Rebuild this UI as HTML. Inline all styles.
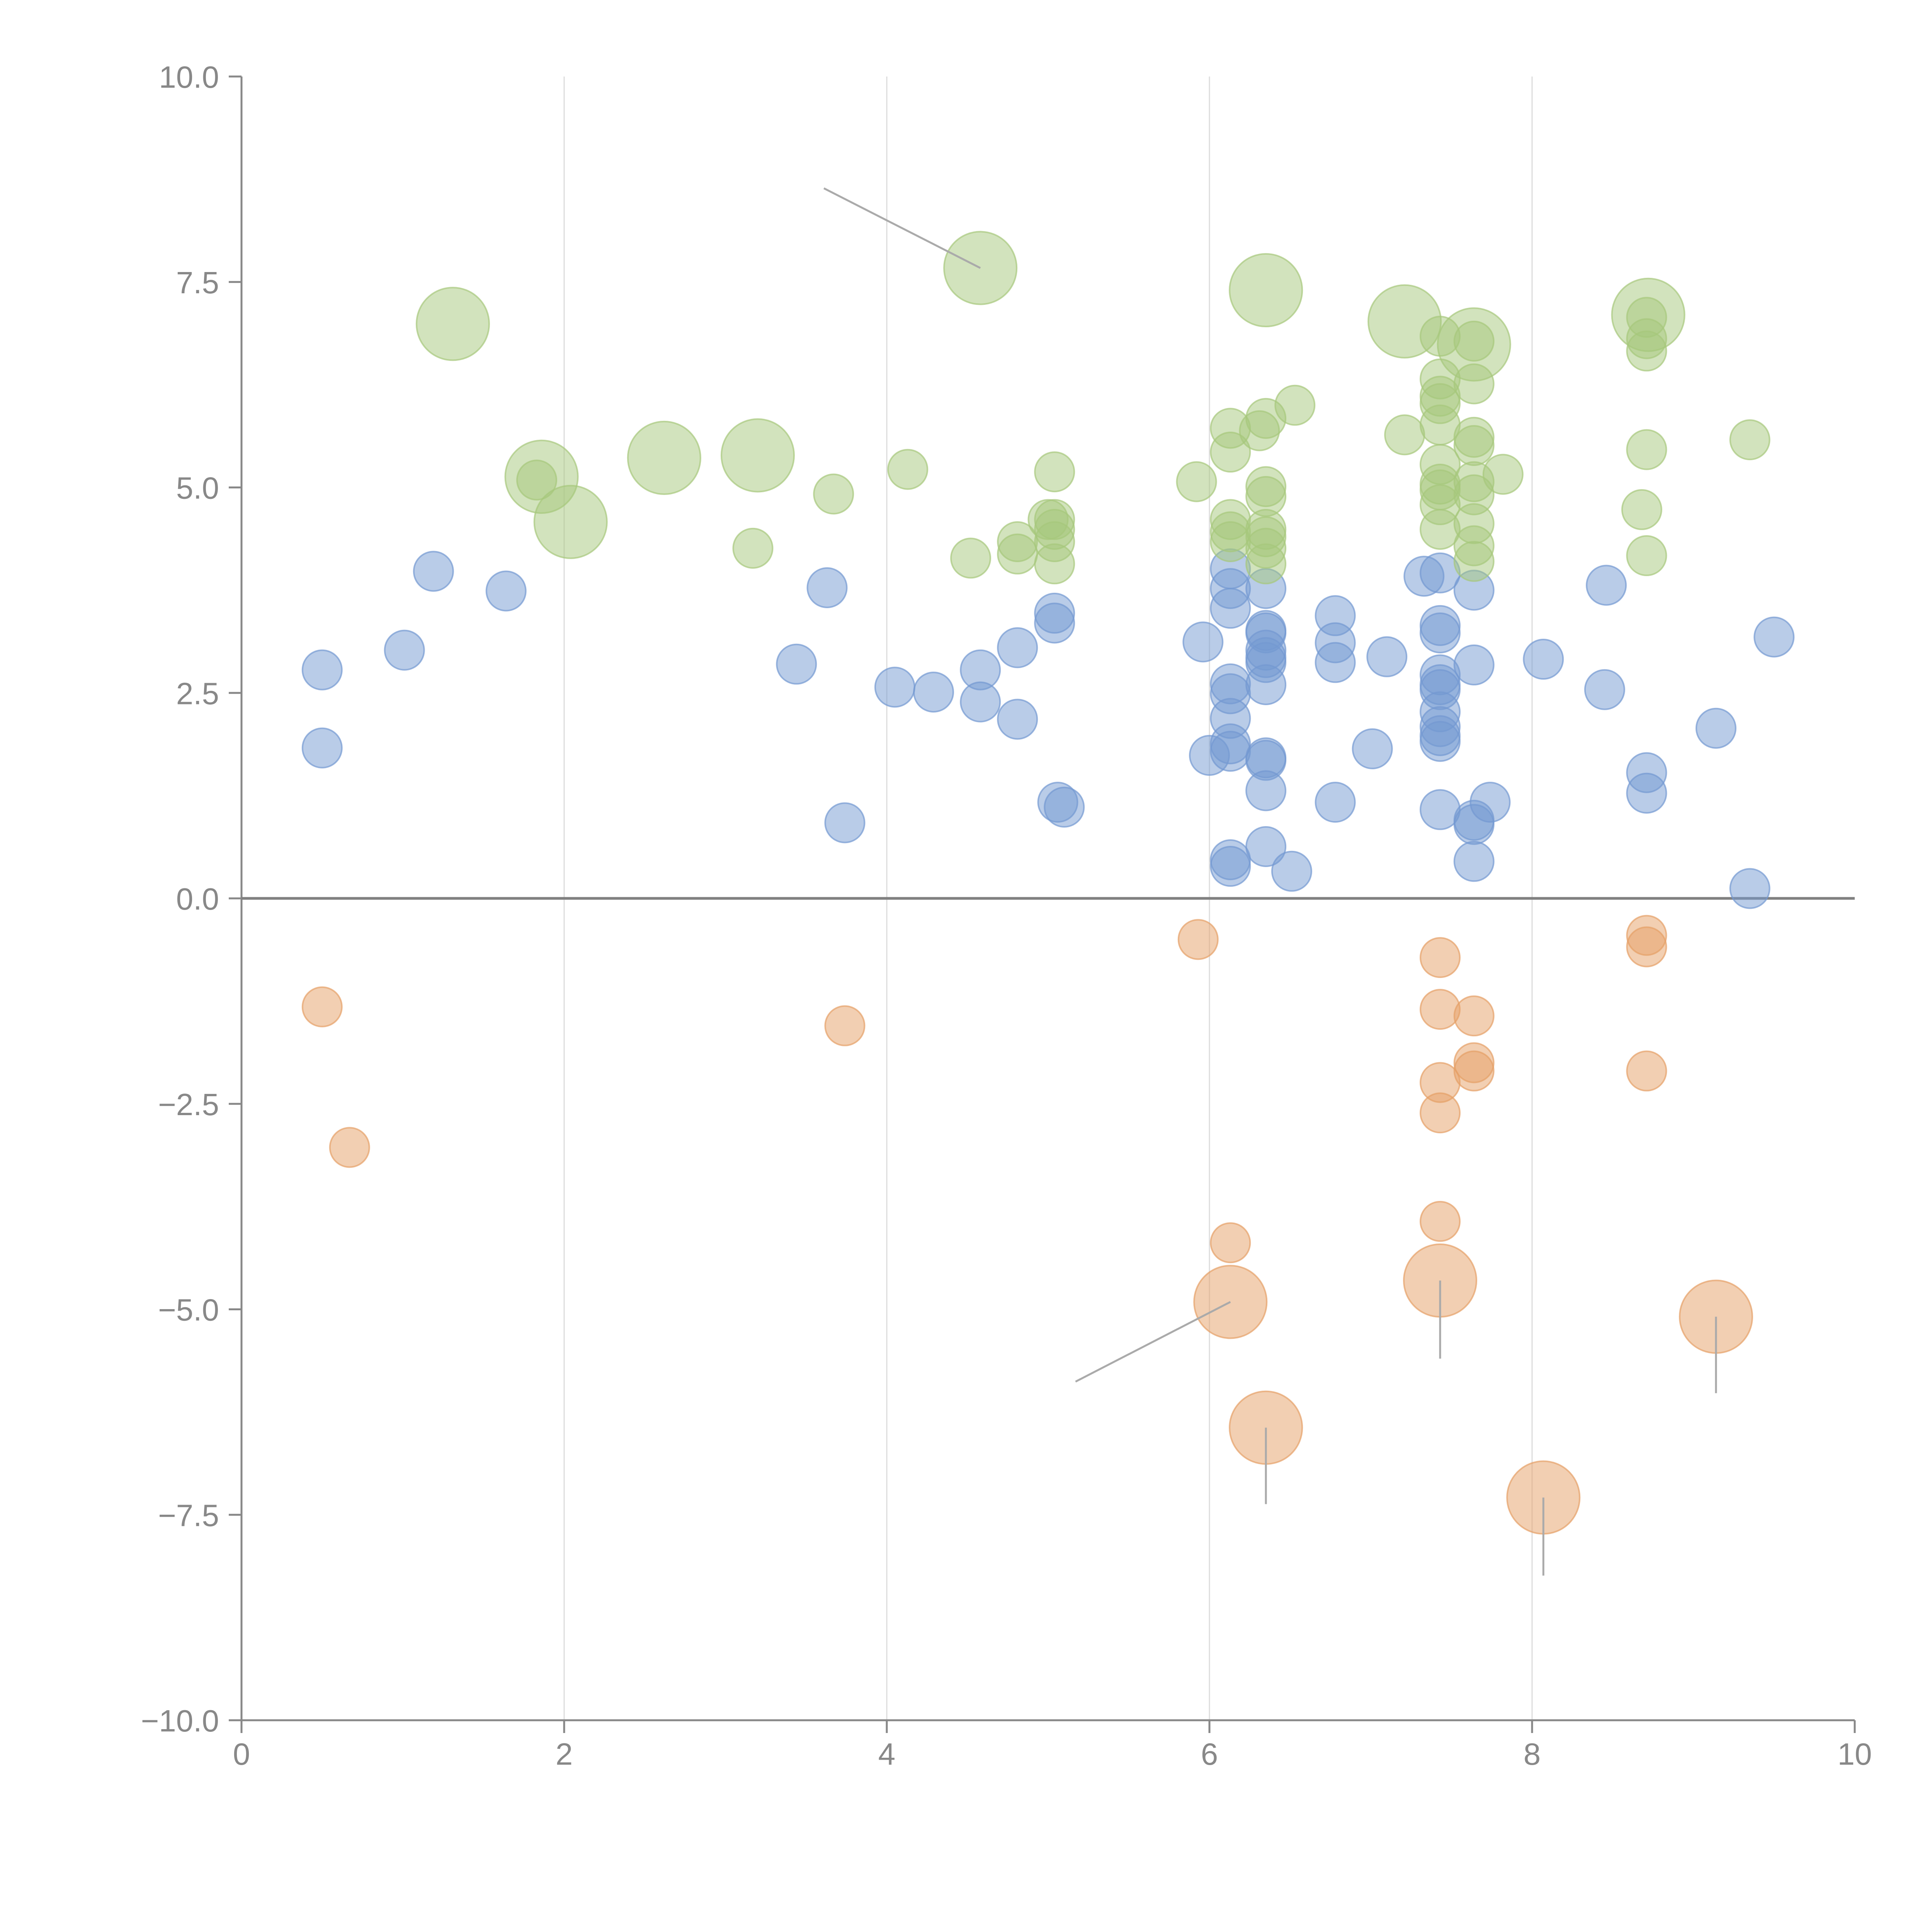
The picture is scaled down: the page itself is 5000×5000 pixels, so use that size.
<!DOCTYPE html>
<html><head><meta charset="utf-8">
<style>html,body{margin:0;padding:0;background:#fff}svg{display:block}</style>
</head><body>
<svg id="chart" width="5000" height="5000" viewBox="0 0 5000 5000" xmlns="http://www.w3.org/2000/svg" font-family="Liberation Sans, sans-serif">
<g id="grid"></g>
<g id="axes"></g>
<g id="leaders"></g>
<g id="marks"></g>
</svg>
<script>
const xTicks=[0,2,4,6,8,10];
const yTicks=[-10,-7.5,-5,-2.5,0,2.5,5,7.5,10];
const yTickLabels=["\u221210.0","\u22127.5","\u22125.0","\u22122.5","0.0","2.5","5.0","7.5","10.0"];
const blueX=[0.50,0.50,1.01,1.19,1.64,3.44,3.63,3.74,4.05,4.29,4.58,4.58,4.81,4.81,5.04,5.04,5.06,5.10,5.96,6.00,6.13,6.13,6.13,6.13,6.13,6.13,6.13,6.13,6.13,6.13,6.35,6.35,6.35,6.35,6.35,6.35,6.35,6.35,6.35,6.35,6.35,6.51,6.78,6.78,6.78,6.78,7.01,7.10,7.33,7.43,7.43,7.43,7.43,7.43,7.43,7.43,7.43,7.43,7.43,7.43,7.64,7.64,7.64,7.64,7.64,7.74,8.07,8.46,8.45,8.71,8.71,9.14,9.35,9.50];
const blueY=[2.78,1.83,3.02,3.98,3.74,2.85,3.78,0.92,2.57,2.51,2.78,2.39,3.05,2.18,3.47,3.35,1.17,1.11,3.12,1.74,4.01,3.77,3.53,2.61,2.49,2.19,1.88,1.79,0.47,0.39,3.77,3.26,3.23,3.02,2.93,2.87,2.60,1.71,1.68,1.31,0.63,0.33,3.44,3.11,2.87,1.17,1.82,2.94,3.92,3.96,3.32,3.23,2.72,2.60,2.54,2.27,2.09,1.98,1.91,1.08,3.75,2.84,0.95,0.90,0.45,1.17,2.91,3.81,2.54,1.53,1.28,2.07,0.12,3.18];
const greenX=[1.31,1.86,2.04,2.62,3.20,4.58,6.35,7.21,7.64,8.72,1.83,3.17,3.67,4.13,4.52,4.81,4.81,5.04,5.04,5.04,5.04,5.04,5.00,5.92,6.13,6.13,6.13,6.13,6.13,6.31,6.35,6.35,6.35,6.35,6.35,6.35,6.35,6.53,7.21,7.43,7.43,7.43,7.43,7.43,7.43,7.43,7.43,7.43,7.43,7.64,7.64,7.64,7.64,7.64,7.64,7.64,7.64,7.64,7.82,8.71,8.71,8.71,8.71,8.68,8.71,9.35];
const greenY=[6.99,5.13,4.58,5.36,5.39,7.67,7.40,7.02,6.74,7.10,5.09,4.26,4.92,5.22,4.14,4.34,4.19,5.19,4.61,4.49,4.34,4.07,4.61,5.07,5.72,5.43,4.61,4.46,4.34,5.69,5.84,5.01,4.89,4.49,4.40,4.26,4.07,6.00,5.64,6.84,6.32,6.11,6.02,5.76,5.28,5.04,4.97,4.79,4.49,6.78,6.26,5.61,5.51,5.07,4.91,4.56,4.29,4.10,5.16,7.07,6.81,6.66,5.46,4.73,4.17,5.58];
const greenSize=[34,34,34,34,34,34,34,34,34,34,10,10,10,10,10,10,10,10,10,10,10,10,10,10,10,10,10,10,10,10,10,10,10,10,10,10,10,10,10,10,10,10,10,10,10,10,10,10,10,10,10,10,10,10,10,10,10,10,10,10,10,10,10,10,10,10];
const orangeX=[0.50,0.67,3.74,5.93,6.13,7.43,7.43,7.64,7.64,7.64,7.43,7.43,7.43,8.71,8.71,8.71,6.13,7.43,9.14,6.35,8.07];
const orangeY=[-1.32,-3.03,-1.55,-0.50,-4.19,-0.72,-1.35,-1.43,-2.00,-2.10,-2.24,-2.61,-3.93,-0.45,-0.59,-2.10,-4.91,-4.65,-5.09,-6.44,-7.29];
const orangeSize=[10,10,10,10,10,10,10,10,10,10,10,10,10,10,10,10,34,34,34,34,34];
const leaderFromX=[4.58,6.13,7.43,9.14,6.35,8.07];
const leaderFromY=[7.67,-4.91,-4.65,-5.09,-6.44,-7.29];
const leaderToX=[3.61,5.17,7.43,9.14,6.35,8.07];
const leaderToY=[8.64,-5.88,-5.60,-6.02,-7.37,-8.24];

const X0=625,X1=4800,Y0=4452,Y1=198;
const sx=v=>X0+(v-0)/(10-0)*(X1-X0);
const sy=v=>Y0-(v+10)/20*(Y0-Y1);
const sr=s=>51*Math.sqrt(s/10);
const NS="http://www.w3.org/2000/svg";
function mk(tag,attrs,parent){const e=document.createElementNS(NS,tag);for(const k in attrs)e.setAttribute(k,attrs[k]);parent.appendChild(e);return e;}
const grid=document.getElementById('grid'),axes=document.getElementById('axes'),leaders=document.getElementById('leaders'),marks=document.getElementById('marks');

xTicks.forEach(t=>{
  if(t>0&&t<10){const g=mk('line',{x1:sx(t),x2:sx(t),y1:Y1,y2:Y0,stroke:'#dcdcdc','stroke-width':3},grid);
  
  }
  const tk=mk('line',{x1:sx(t),x2:sx(t),y1:Y0,y2:Y0+33,stroke:'#888','stroke-width':5},axes);
  
  
  const tx=mk('text',{x:sx(t),y:Y0+115,'text-anchor':'middle','font-size':80,fill:'#888'},axes);
  tx.textContent=String(t);
  
  
});
yTicks.forEach((t,i)=>{
  const tk=mk('line',{x1:X0-33,x2:X0,y1:sy(t),y2:sy(t),stroke:'#888','stroke-width':5},axes);
  
  
  const tx=mk('text',{x:X0-58,y:sy(t)+29,'text-anchor':'end','font-size':80,fill:'#888'},axes);
  tx.textContent=yTickLabels[i];
  
  
});
const ya=mk('line',{x1:X0,x2:X0,y1:Y1,y2:Y0,stroke:'#888','stroke-width':5},axes);


const xa=mk('line',{x1:X0,x2:X1,y1:Y0,y2:Y0,stroke:'#888','stroke-width':5},axes);


const zl=mk('line',{x1:X0,x2:X1,y1:sy(0),y2:sy(0),stroke:'#808080','stroke-width':7},axes);



function series(xs,ys,sizes,fill,name){
  xs.forEach((x,i)=>{
    const c=mk('circle',{cx:sx(x),cy:sy(ys[i]),r:sr(sizes?sizes[i]:10),fill:fill,'fill-opacity':0.5,stroke:fill,'stroke-opacity':0.7,'stroke-width':4},marks);
    
    
  });
}
series(blueX,blueY,null,'#7399d1','blue-bubble');
series(greenX,greenY,greenSize,'#a6c77c','green-bubble');
series(orangeX,orangeY,orangeSize,'#e69f66','orange-bubble');

leaderFromX.forEach((x,i)=>{
  const l=mk('line',{x1:sx(x),y1:sy(leaderFromY[i]),x2:sx(leaderToX[i]),y2:sy(leaderToY[i]),stroke:'#aaa','stroke-width':5},leaders);
  
  
});
document.getElementById('chart').appendChild(leaders);
</script>
</body></html>
